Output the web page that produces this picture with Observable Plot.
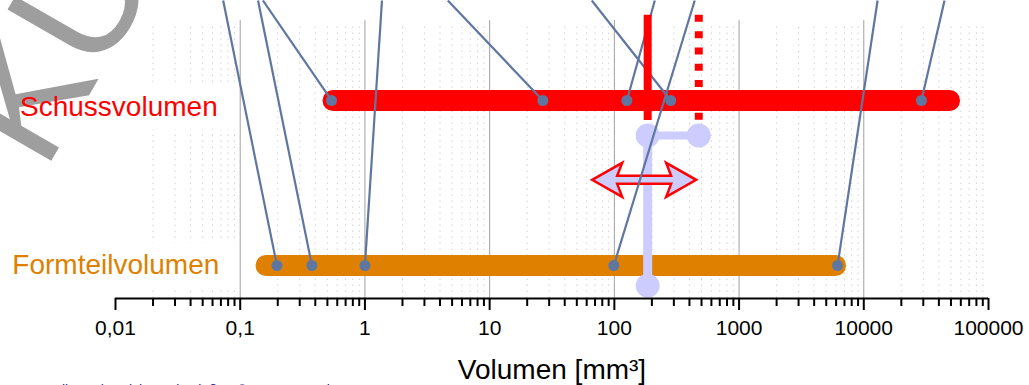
<!DOCTYPE html>
<html><head><meta charset="utf-8">
<script src="https://cdn.jsdelivr.net/npm/d3@7"></script>
<script src="https://cdn.jsdelivr.net/npm/@observablehq/plot@0.6"></script>
<style>
html,body{margin:0;padding:0;background:#fff;}
#chart{width:1029px;height:385px;overflow:hidden;}
</style></head><body><div id="chart"></div>
<script>
// ---- axis ticks ----
const xTicks = [0.01, 0.1, 1, 10, 100, 1000, 10000, 100000];
const xTickLabels = ["0,01", "0,1", "1", "10", "100", "1000", "10000", "100000"];
const majorGrid = [0.1, 1, 10, 100, 1000, 10000];
const minorGrid = d3.range(-2, 5).flatMap(e => d3.range(2, 10).map(k => +(k * Math.pow(10, e)).toPrecision(6)));

// ---- bars (volume ranges) ----
const barNames = ["Schussvolumen", "Formteilvolumen"];
const barRows = [6, 1];
const barStart = [0.555, 0.161];
const barEnd = [48700, 5940];
const barColors = ["#ff0000", "#e08000"];

// ---- example points and their leader lines ----
const topRow = 9.03;
const schussDots = [0.54, 26.7, 126, 283, 29000];
const schussTops = [0.152, 4.62, 211, 65.9, 44400];
const formDots = [0.197, 0.376, 1.0, 99, 6160];
const formTops = [0.073, 0.139, 1.37, 441, 12900];

// ---- marker for the machine ----
const solidMarkerX = [185];
const dottedMarkerX = [475];
const markerRows = [5.39, 8.58];
const lavRow = 4.94, lavBottomRow = 0.39;
const arrowFrom = 67, arrowTo = 457, arrowRow = 3.58;

// ---- texts ----
const axisLabel = "Volumen [mm³]";
const watermark = "KUNSTSTOFF";
const credit = "Quelle: Kühnerich, Spritzgießen © 2023 Sammlung";

const bars = barNames.map((n, i) => ({name: n, row: barRows[i], x1: barStart[i], x2: barEnd[i], color: barColors[i]}));
const links = [
  ...schussDots.map((d, i) => ({x1: schussTops[i], x2: d, row: barRows[0]})),
  ...formDots.map((d, i) => ({x1: formTops[i], x2: d, row: barRows[1]}))
];
const dots = links.map(l => ({x: l.x2, row: l.row}));

const LAV = "#ccccff", RED = "#ff0000", BLUE = "#5f77a0";

function doubleArrow(index, scales) {
  const x1 = scales.x(arrowFrom), x2 = scales.x(arrowTo), y = scales.y(arrowRow);
  const hl = 30, hh = 17, nx = 25, sh = 4;
  const pts = [[x1, y], [x1 + hl, y - hh], [x1 + nx, y - sh], [x2 - nx, y - sh], [x2 - hl, y - hh], [x2, y],
               [x2 - hl, y + hh], [x2 - nx, y + sh], [x1 + nx, y + sh], [x1 + hl, y + hh]];
  return d3.create("svg:path")
    .attr("d", "M" + pts.map(p => p.join(",")).join("L") + "Z")
    .attr("fill", LAV).attr("stroke", RED).attr("stroke-width", 2.5)
    .attr("stroke-linejoin", "miter").node();
}

const chart = Plot.plot({
  width: 1029, height: 385,
  marginLeft: 115, marginRight: 41, marginTop: 0, marginBottom: 87,
  style: {fontFamily: "'Liberation Sans', Arial, sans-serif", background: "white", overflow: "hidden"},
  x: {type: "log", domain: [0.01, 100000], axis: null, label: null},
  y: {type: "linear", domain: [0, topRow], axis: null, label: null},
  marks: [
    // grid
    Plot.ruleX(minorGrid, {y1: 0, y2: 8.33, stroke: "#d2d2d2", strokeWidth: 1, strokeDasharray: "1.5,4.5"}),
    Plot.ruleX(majorGrid, {y1: 0, y2: 8.42, stroke: "#a0a0a0", strokeWidth: 1}),
    // label backgrounds
    Plot.rect([bars[0]], {x1: 0.0105, x2: 0.097, y1: d => d.row - 0.68, y2: d => d.row + 0.68, dy: 7, fill: "white"}),
    Plot.rect([bars[1]], {x1: 0.0105, x2: 0.097, y1: d => d.row - 0.68, y2: d => d.row + 0.68, fill: "white"}),
    // watermark
    Plot.text([watermark], {text: d => d, frameAnchor: "top-left", dx: -71, dy: 172, rotate: -60,
      fontSize: 165, fill: "#9e9e9e", textAnchor: "start", lineAnchor: "bottom"}),
    // bars
    Plot.link(bars, {x1: "x1", x2: "x2", y1: "row", y2: "row", stroke: "color", strokeWidth: 21, strokeLinecap: "round"}),
    // lavender machine marker
    Plot.link([0], {x1: solidMarkerX[0], x2: solidMarkerX[0], y1: lavRow, y2: lavBottomRow, stroke: LAV, strokeWidth: 9}),
    Plot.link([0], {x1: solidMarkerX[0], x2: dottedMarkerX[0], y1: lavRow, y2: lavRow, stroke: LAV, strokeWidth: 8}),
    Plot.dot([[solidMarkerX[0], lavRow], [dottedMarkerX[0], lavRow], [solidMarkerX[0], lavBottomRow]],
      {x: d => d[0], y: d => d[1], r: 12, fill: LAV}),
    doubleArrow,
    // leader lines and points
    Plot.link(links, {x1: "x1", x2: "x2", y1: topRow, y2: "row", stroke: BLUE, strokeWidth: 2.2, clip: true}),
    Plot.dot(dots, {x: "x", y: "row", r: 5.5, fill: BLUE}),
    // red markers
    Plot.ruleX(solidMarkerX, {y1: markerRows[0], y2: markerRows[1], stroke: RED, strokeWidth: 8}),
    Plot.ruleX(dottedMarkerX, {y1: markerRows[1], y2: markerRows[0], stroke: RED, strokeWidth: 8, strokeDasharray: "7,9.3"}),
    // row labels
    Plot.text([bars[0]], {x: 0.066, y: "row", text: "name", fill: "color", fontSize: 28, textAnchor: "end", lineAnchor: "middle", dy: 7}),
    Plot.text([bars[1]], {x: 0.068, y: "row", text: "name", fill: "color", fontSize: 28, textAnchor: "end", lineAnchor: "middle"}),
    // axis
    Plot.ruleY([0], {stroke: "black", strokeWidth: 2}),
    Plot.axisX({ticks: minorGrid, tickSize: 8, tickFormat: () => "", strokeWidth: 2, stroke: "black", label: null}),
    Plot.axisX({ticks: xTicks, tickSize: 12, tickPadding: 10, tickFormat: (d, i) => xTickLabels[xTicks.indexOf(d)],
      strokeWidth: 2, stroke: "black", fill: "black", fontSize: 21, label: null}),
    Plot.text([axisLabel], {text: d => d, frameAnchor: "bottom", dy: 80, lineAnchor: "bottom", fontSize: 28, fill: "black"}),
    Plot.text([credit], {text: d => d, frameAnchor: "bottom-left", dx: -80, dy: 87, lineAnchor: "top", textAnchor: "start", fontSize: 14, fill: "#2c2c8c"})
  ]
});
document.getElementById("chart").appendChild(chart);
</script>
</body></html>
